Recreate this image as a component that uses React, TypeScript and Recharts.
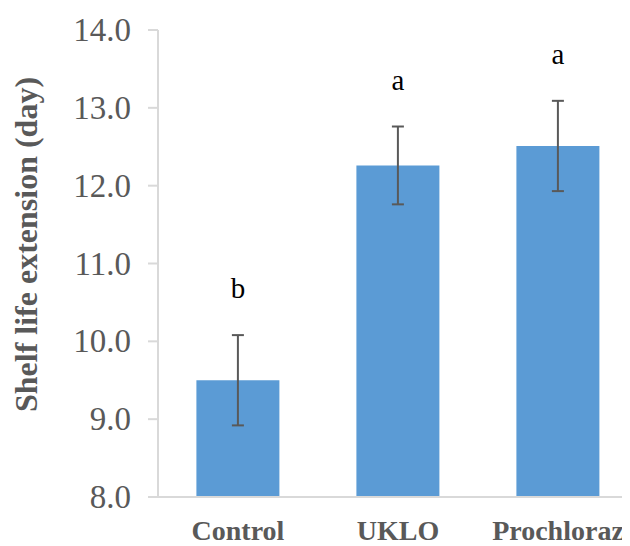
import React from 'react'
import { BarChart, Bar, XAxis, YAxis, ErrorBar, LabelList, Label } from 'recharts'

const categories = ['Control', 'UKLO', 'Prochloraz']
const means = [9.5, 12.26, 12.51]
const errors = [0.58, 0.5, 0.58]
const letters = ['b', 'a', 'a']
const yTicks = [8, 9, 10, 11, 12, 13, 14]

const data = categories.map((name, i) => ({
  name,
  value: means[i],
  err: errors[i],
  letter: letters[i],
}))

const serif = "'Liberation Serif', 'Times New Roman', Times, serif"
const grey = '#595959'
const axisGrey = '#d9d9d9'

function YTick(props: any) {
  const { x, y, payload } = props
  return (
    <text x={x} y={y} dy={11} textAnchor="end" style={{ fontFamily: serif, fontSize: 33, fill: grey }}>
      {Number(payload.value).toFixed(1)}
    </text>
  )
}

function XTick(props: any) {
  const { x, y, payload } = props
  return (
    <text x={x} y={y} dy={20} textAnchor="middle" style={{ fontFamily: serif, fontSize: 28, fontWeight: 'bold', fill: grey }}>
      {payload.value}
    </text>
  )
}

function LetterLabel(props: any) {
  const { x, y, width, height, index } = props
  const d = data[index]
  if (!d) return null
  // px per unit from the bar itself (domain starts at 8)
  const k = height / (d.value - 8)
  const top = y - d.err * k
  return (
    <text x={x + width / 2} y={top - 37} textAnchor="middle" style={{ fontFamily: serif, fontSize: 29, fill: '#000' }}>
      {d.letter}
    </text>
  )
}

function YLabel(props: any) {
  const vb = props.viewBox || { x: 0, y: 22, width: 150, height: 467 }
  const x = vb.x + 29
  const y = vb.y + vb.height / 2 - 19
  return (
    <text
      x={x}
      y={y}
      transform={`rotate(-90 ${x} ${y})`}
      textAnchor="middle"
      style={{ fontFamily: serif, fontWeight: 'bold', fontSize: 32, fill: grey }}
    >
      Shelf life extension (day)
    </text>
  )
}

export default function App() {
  return (
    <div style={{ width: 622, height: 538, overflow: 'hidden' }}>
      <BarChart
        width={630}
        height={538}
        data={data}
        margin={{ top: 22, right: 0, bottom: 0, left: 0 }}
        barCategoryGap="24%"
      >
        <XAxis
          dataKey="name"
          height={49}
          axisLine={{ stroke: axisGrey, strokeWidth: 2 }}
          tickLine={false}
          tickSize={0}
          tickMargin={23}
          tick={<XTick />}
        />
        <YAxis
          width={150}
          domain={[8, 14]}
          ticks={yTicks}
          interval={0}
          axisLine={{ stroke: axisGrey, strokeWidth: 2 }}
          tickLine={{ stroke: axisGrey, strokeWidth: 2 }}
          tickSize={10}
          tickMargin={17}
          tick={<YTick />}
        >
          <Label content={<YLabel />} />
        </YAxis>
        <Bar dataKey="value" fill="#5b9bd5" isAnimationActive={false}>
          <ErrorBar dataKey="err" width={6} stroke={grey} strokeWidth={2} isAnimationActive={false} />
          <LabelList dataKey="letter" content={<LetterLabel />} />
        </Bar>
      </BarChart>
    </div>
  )
}
